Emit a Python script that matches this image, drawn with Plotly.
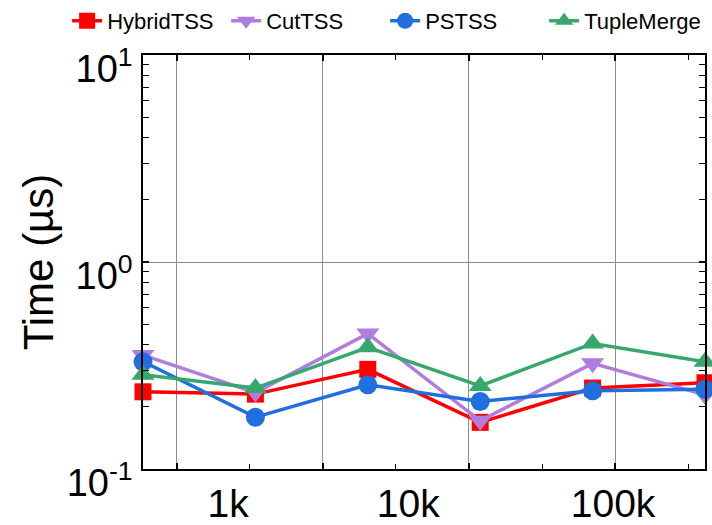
import plotly.graph_objects as go

# data: six measurement points (index along the x axis)
x_idx = [0, 1, 2, 3, 4, 5]
hybrid = [0.236, 0.230, 0.303, 0.168, 0.246, 0.261]
cuttss = [0.355, 0.234, 0.451, 0.171, 0.324, 0.228]
pstss = [0.330, 0.178, 0.255, 0.212, 0.239, 0.243]
tuplemerge = [0.285, 0.246, 0.387, 0.252, 0.404, 0.330]

x_tick_labels = ["1k", "10k", "100k"]
x_label_pos = [0.758, 2.36, 4.182]
x_grid_pos = [0.30, 1.60, 2.90, 4.20]
x_minor_pos = [0.95, 2.25, 3.55, 4.85]

y_tick_vals = [0.1, 1, 10]
y_tick_text = ["10<sup>-1</sup>", "10<sup>0</sup>", "10<sup>1</sup>"]
y_minor = [0.2, 0.3, 0.4, 0.5, 0.6, 0.7, 0.8, 0.9, 2, 3, 4, 5, 6, 7, 8, 9]

FONT = "Liberation Sans"

series = [
    ("HybridTSS", hybrid, "#ff0000", "square", 17),
    ("CutTSS", cuttss, "#b07ddf", "triangle-down", 20),
    ("PSTSS", pstss, "#1f6fdf", "circle", 19),
    ("TupleMerge", tuplemerge, "#37a86b", "triangle-up", 20),
]

fig = go.Figure()
for name, ys, col, sym, sz in series:
    fig.add_trace(go.Scatter(
        x=x_idx, y=ys, name=name, mode="lines+markers",
        line=dict(color=col, width=3.5),
        marker=dict(symbol=sym, size=sz, color=col),
        cliponaxis=False,
    ))

# invisible trace to activate the label axis
fig.add_trace(go.Scatter(x=[0], y=[1], xaxis="x2", mode="markers",
                         marker=dict(opacity=0), showlegend=False, hoverinfo="skip"))

fig.update_layout(
    width=712, height=525,
    margin=dict(l=143, r=7, t=55, b=56, autoexpand=False),
    paper_bgcolor="white", plot_bgcolor="white",
    font=dict(family=FONT, color="black"),
    showlegend=True,
    legend=dict(orientation="h", x=-0.135, xanchor="left", y=1.133, yanchor="top",
                xref="paper", yref="paper", font=dict(family=FONT, size=22),
                itemwidth=30, entrywidth=114, entrywidthmode="pixels",
                tracegroupgap=0, bgcolor="rgba(0,0,0,0)"),
    xaxis=dict(
        range=[0, 5], showline=True, linecolor="black", linewidth=1.5, mirror="allticks",
        tickmode="array", tickvals=x_grid_pos, showticklabels=False,
        ticks="inside", ticklen=6, tickwidth=1.5, tickcolor="black",
        showgrid=True, gridcolor="#8c8c8c", gridwidth=1.2, zeroline=False,
        automargin=False,
        minor=dict(tickmode="array", tickvals=x_minor_pos, ticks="inside", ticklen=5,
                   tickwidth=1.2, tickcolor="black", showgrid=False),
    ),
    xaxis2=dict(
        range=[0, 5], overlaying="x", side="bottom", anchor="y",
        tickmode="array", tickvals=x_label_pos, ticktext=x_tick_labels,
        ticks="", showgrid=False, showline=False, zeroline=False, automargin=False,
        tickfont=dict(size=39, family=FONT), ticklabelstandoff=8,
    ),
    yaxis=dict(
        type="log", range=[-1, 1], showline=True, linecolor="black", linewidth=1.5,
        mirror="allticks", tickmode="array", tickvals=y_tick_vals, ticktext=y_tick_text,
        ticks="inside", ticklen=6, tickwidth=1.5, tickcolor="black", automargin=False,
        tickfont=dict(size=38, family=FONT), ticklabelshift=14, ticklabelstandoff=1,
        showgrid=True, gridcolor="#8c8c8c", gridwidth=1.2, zeroline=False,
        minor=dict(tickmode="array", tickvals=y_minor, ticks="inside", ticklen=5,
                   tickwidth=1.2, tickcolor="black", showgrid=False),
        title=dict(text="Time (µs)", font=dict(size=42, family=FONT), standoff=0),
    ),
)

fig.write_html("out.html")
